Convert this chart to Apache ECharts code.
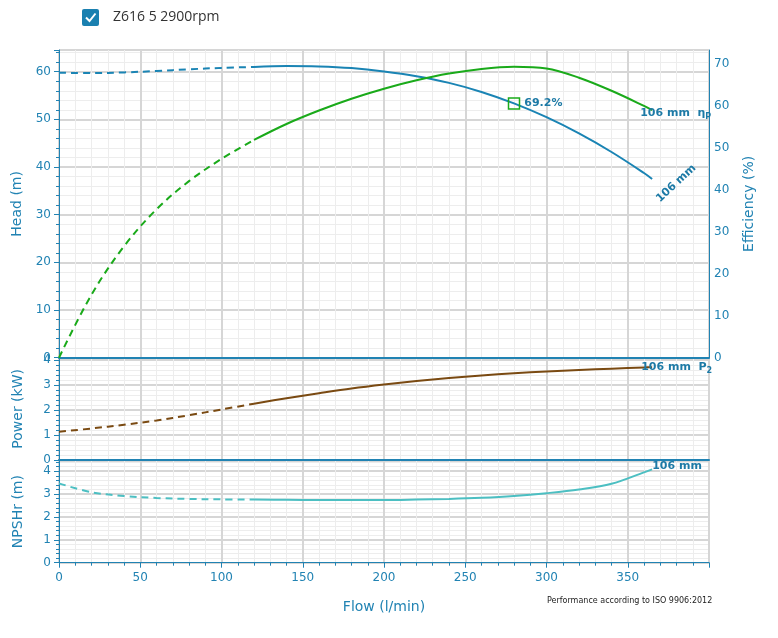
<!DOCTYPE html>
<html><head><meta charset="utf-8">
<script src="https://cdn.jsdelivr.net/npm/echarts@6/dist/echarts.min.js"></script>
<style>html,body{margin:0;padding:0;background:#fff}#c{width:778px;height:638px}</style>
</head><body><div id="c"></div>
<script>
// ---- data ----
const flow       = [0, 20, 40, 60, 80, 100, 120, 140, 160, 180, 200, 220, 240, 260, 280, 300, 320, 340, 360, 365];
const head       = [59.8, 59.7, 59.85, 60.15, 60.5, 60.8, 61.0, 61.2, 61.1, 60.75, 60.05, 59.05, 57.65, 55.75, 53.35, 50.45, 47.05, 43.15, 38.75, 37.5];
const efficiency = [0, 15.0, 26.5, 35.3, 42.0, 47.3, 51.8, 55.6, 58.8, 61.6, 64.0, 66.0, 67.6, 68.7, 69.2, 68.8, 66.6, 63.5, 59.9, 58.9];
const power      = [1.13, 1.26, 1.41, 1.58, 1.79, 2.02, 2.25, 2.47, 2.67, 2.86, 3.02, 3.16, 3.28, 3.38, 3.47, 3.54, 3.6, 3.65, 3.7, 3.71];
const npsh       = [3.47, 3.08, 2.92, 2.83, 2.79, 2.77, 2.76, 2.75, 2.74, 2.74, 2.74, 2.76, 2.79, 2.84, 2.92, 3.04, 3.2, 3.45, 3.95, 4.08];
const dashedUntil = 120;          // flow where curves become solid
const bepFlow = 280;              // best efficiency point
const bepLabel = '69.2%';
const curveLabel = '106 mm';
const legendText = 'Z616 5 2900rpm';
const noteText = 'Performance according to ISO 9906:2012';

// ---- styles ----
const TEAL = '#2183b3', LBL = '#1d7aa6', MAJ = '#d6d6d6', MIN = '#ededed';
const HEADC = '#1a84b4', EFFC = '#1aaa1a', POWC = '#7a4a12', NPSHC = '#4cbfc2';
const FONT = 'DejaVu Sans';

function seg(ys, solid) {
  return flow.map((f, i) => [f, ys[i]]).filter(p => solid ? p[0] >= dashedUntil : p[0] <= dashedUntil);
}
const last = flow.length - 1;

const chart = echarts.init(document.getElementById('c'), null, {renderer: 'canvas'});

const gridBase = {left: 59, right: 69, show: true, borderColor: TEAL, borderWidth: 1, backgroundColor: 'transparent'};
function xAx(idx, bottom) {
  return {
    type: 'value', gridIndex: idx, min: 0, max: 400, interval: 50,
    axisLine: {show: true, lineStyle: {color: TEAL, width: bottom ? 1 : 2}},
    axisTick: {show: bottom, length: 5, lineStyle: {color: TEAL}},
    minorTick: {show: bottom, splitNumber: 5, length: 3, lineStyle: {color: TEAL}},
    axisLabel: {show: bottom, color: TEAL, fontSize: 12, fontFamily: FONT, margin: 9, showMaxLabel: false},
    splitLine: {show: true, lineStyle: {color: MAJ, width: 2}},
    minorSplitLine: {show: true, lineStyle: {color: MIN, width: 1}},
    name: bottom ? 'Flow (l/min)' : '', nameLocation: 'middle', nameGap: 38,
    nameTextStyle: {color: TEAL, fontSize: 14, fontFamily: FONT}
  };
}
function yAx(idx, max, name, gap) {
  return {
    type: 'value', gridIndex: idx, position: 'left', min: 0, max: max, interval: idx === 0 ? 10 : 1,
    axisLine: {show: true, lineStyle: {color: TEAL, width: 1}},
    axisTick: {show: true, length: 5, lineStyle: {color: TEAL}},
    minorTick: {show: true, splitNumber: 5, length: 3, lineStyle: {color: TEAL}},
    axisLabel: {color: TEAL, fontSize: 12, fontFamily: FONT, margin: 8, showMaxLabel: false},
    splitLine: {show: true, lineStyle: {color: MAJ, width: 2}},
    minorSplitLine: {show: true, lineStyle: {color: MIN, width: 1}},
    name: name, nameLocation: 'middle', nameGap: gap, nameRotate: 90,
    nameTextStyle: {color: TEAL, fontSize: 14, fontFamily: FONT}
  };
}
const endLbl = (extra) => Object.assign({show: true, position: 'inside', color: LBL, fontWeight: 'bold', fontSize: 11, fontFamily: FONT,
  rich: {s: {fontSize: 8, fontWeight: 'bold', color: LBL, fontFamily: FONT, padding: [7, 0, 0, 0]}}}, extra);
const invisible = {symbol: 'rect', symbolSize: 1, itemStyle: {color: 'rgba(0,0,0,0)'}};

function line(name, xi, yi, ys, color, solid, z, mark) {
  const s = {
    name: name, type: 'line', xAxisIndex: xi, yAxisIndex: yi, data: seg(ys, solid),
    smooth: 0.35, symbol: 'none', silent: true, z: z,
    lineStyle: {color: color, width: 2, type: solid ? 'solid' : [7, 5]}
  };
  if (mark) s.markPoint = {animation: false, silent: true, data: mark};
  return s;
}

const bepIdx = flow.indexOf(bepFlow);
const option = {
  animation: false,
  grid: [
    Object.assign({top: 50, height: 307.7}, gridBase),
    Object.assign({top: 357.7, height: 102.3}, gridBase),
    Object.assign({top: 460.5, height: 102.2}, gridBase)
  ],
  xAxis: [xAx(0, false), xAx(1, false), xAx(2, true)],
  yAxis: [
    yAx(0, 64.55, 'Head (m)', 34),
    {
      type: 'value', gridIndex: 0, position: 'right', min: 0, max: 73.2, interval: 10,
      axisLine: {show: true, lineStyle: {color: TEAL}}, axisTick: {show: false},
      axisLabel: {color: TEAL, fontSize: 12, fontFamily: FONT, margin: 5, showMaxLabel: false},
      splitLine: {show: false},
      name: 'Efficiency (%)', nameLocation: 'middle', nameGap: 33, nameRotate: 90,
      nameTextStyle: {color: TEAL, fontSize: 14, fontFamily: FONT}
    },
    yAx(1, 4.09, 'Power (kW)', 34),
    yAx(2, 4.47, 'NPSHr (m)', 34)
  ],
  series: [
    line('head', 0, 0, head, HEADC, false, 3),
    line('head', 0, 0, head, HEADC, true, 3, [
      Object.assign({coord: [flow[last], head[last]],
        label: endLbl({formatter: curveLabel, rotate: 43, align: 'center', verticalAlign: 'middle', offset: [14.5, 19.7]})}, invisible),
      {coord: [bepFlow, head[bepIdx]], symbol: 'rect', symbolSize: 11,
        itemStyle: {color: 'rgba(255,255,255,0)', borderColor: EFFC, borderWidth: 1.5},
        label: {show: true, formatter: bepLabel, position: 'right', distance: 4, color: LBL, fontWeight: 'bold', fontSize: 11, fontFamily: FONT}}
    ]),
    line('eff', 0, 1, efficiency, EFFC, false, 4),
    line('eff', 0, 1, efficiency, EFFC, true, 4, [
      Object.assign({coord: [flow[last], efficiency[last]],
        label: endLbl({formatter: curveLabel + '  η{s|P}', align: 'left', verticalAlign: 'middle', offset: [-12, 3]})}, invisible)
    ]),
    line('power', 1, 2, power, POWC, false, 3),
    line('power', 1, 2, power, POWC, true, 3, [
      Object.assign({coord: [flow[last], power[last]],
        label: endLbl({formatter: curveLabel + '  P{s|2}', align: 'left', verticalAlign: 'middle', offset: [-11, 0]})}, invisible)
    ]),
    line('npsh', 2, 3, npsh, NPSHC, false, 3),
    line('npsh', 2, 3, npsh, NPSHC, true, 3, [
      Object.assign({coord: [flow[last], npsh[last]],
        label: endLbl({formatter: curveLabel, align: 'left', verticalAlign: 'middle', offset: [0, -3]})}, invisible)
    ])
  ],
  graphic: [
    {type: 'rect', x: 82, y: 9, shape: {x: 0, y: 0, width: 17, height: 17, r: 2}, style: {fill: '#1a80b0'}},
    {type: 'polyline', shape: {points: [[86, 17.5], [89.5, 21], [95.5, 13.5]]}, style: {stroke: '#fff', lineWidth: 2, fill: null}},
    {type: 'text', x: 113, y: 17.5, style: {text: legendText, fill: '#333', font: '14px "Open Sans"', verticalAlign: 'middle'}},
    {type: 'text', x: 547, y: 601, style: {text: noteText, fill: '#222', font: '8px "DejaVu Sans"', verticalAlign: 'middle'}}
  ]
};
chart.setOption(option);
</script>
</body></html>
